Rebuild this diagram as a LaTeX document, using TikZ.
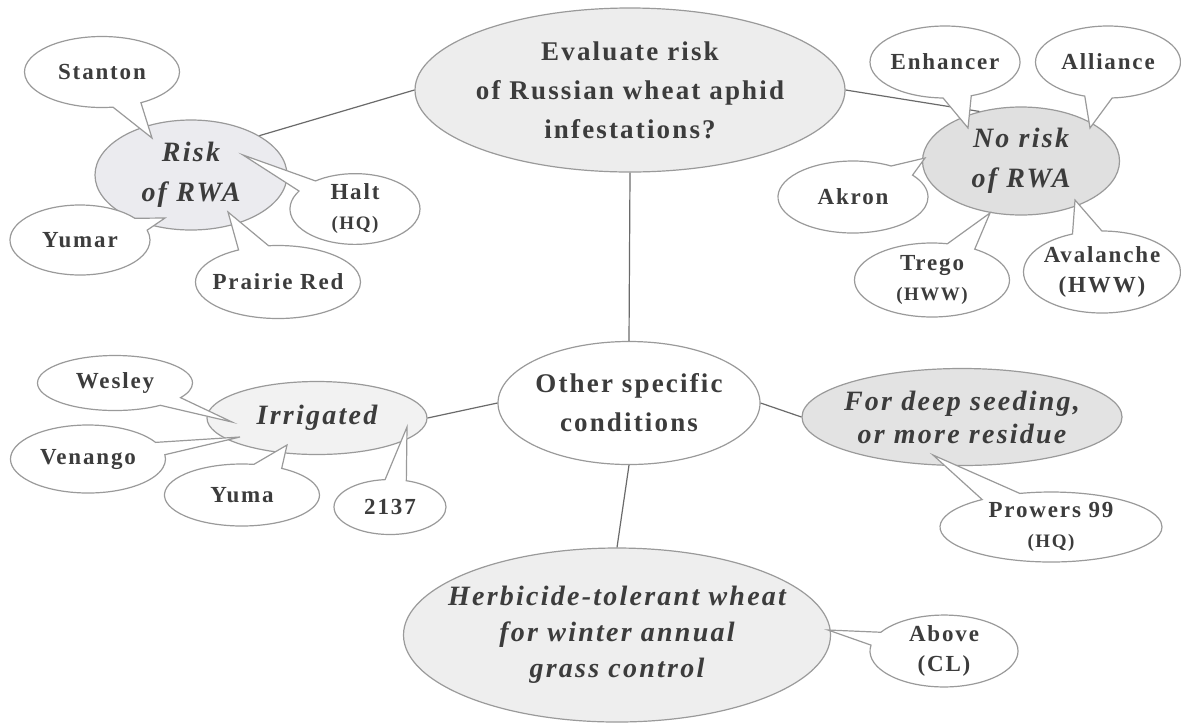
\documentclass[tikz,border=0pt]{standalone}
\usepackage{fontspec}
\setmainfont{Liberation Serif}[LetterSpace=8]
\usetikzlibrary{shapes.geometric,shapes.callouts}
\definecolor{inkgray}{HTML}{3C3C3C}
\definecolor{rimgray}{HTML}{9A9A9A}
\definecolor{linkgray}{HTML}{6A6A6A}
\definecolor{riskfill}{HTML}{EBEBEF}
\tikzset{
  topic/.style={ellipse, draw=rimgray, line width=0.6pt, inner sep=0pt, inner xsep=-20pt, text=inkgray, align=center},
  issue/.style={topic, font=\fontsize{13.5}{19.5}\selectfont\bfseries},
  branch/.style={topic, font=\fontsize{14}{20}\selectfont\bfseries\itshape},
  variety/.style={ellipse callout, draw=rimgray, fill=white, line width=0.6pt, inner sep=0pt, inner xsep=-12pt,
    text=inkgray, align=center, callout pointer arc=22, font=\fontsize{11.5}{15}\selectfont\bfseries},
  link/.style={draw=linkgray, line width=0.6pt}
}
\newcommand{\subnote}[1]{{\fontsize{9.5}{12}\selectfont #1}}
\begin{document}
\begin{tikzpicture}[x=0.5pt, y=-0.5pt]
  \fill[white] (0,0) rectangle (1181,724);
  \useasboundingbox (0,0) rectangle (1181,724);

  % main questions
  \node[issue, fill=gray!14, minimum width=215pt, minimum height=82pt] (evaluate) at (630,90)
    {Evaluate risk\\of Russian wheat aphid\\infestations?};
  \node[issue, fill=white, minimum width=131pt, minimum height=61.5pt] (other) at (629,403)
    {Other specific\\conditions};

  % branches
  \node[branch, fill=riskfill, minimum width=96pt, minimum height=55pt] (risk) at (191,175) {Risk\\of RWA};
  \node[branch, fill=gray!24, minimum width=98.5pt, minimum height=54pt] (norisk) at (1021,161) {No risk\\of RWA};
  \node[branch, fill=gray!10, minimum width=110pt, minimum height=36.5pt] (irrigated) at (317,418) {Irrigated};
  \node[branch, fill=gray!22, font=\fontsize{14}{16.5}\selectfont\bfseries\itshape,
    minimum width=160pt, minimum height=48.5pt] (deep) at (962,417) {For deep seeding,\\or more residue};
  \node[branch, fill=gray!13, font=\fontsize{14}{18}\selectfont\bfseries\itshape,
    minimum width=213.5pt, minimum height=87pt] (herbicide) at (617,635)
    {Herbicide-tolerant wheat\\for winter annual\\grass control};

  \draw[link] (evaluate.west) -- (risk.north east);
  \draw[link] (evaluate.east) -- (norisk.130);
  \draw[link] (evaluate.south) -- (other.north);
  \draw[link] (other.west) -- (irrigated.east);
  \draw[link] (other.east) -- (deep.west);
  \draw[link] (other.south) -- (herbicide.north);

  % varieties: risk of RWA
  \node[variety, minimum width=77.5pt, minimum height=35.5pt, callout absolute pointer={(152,138)}] (stanton) at (102,72) {Stanton};
  \node[variety, minimum width=70pt, minimum height=35pt, callout absolute pointer={(165,218)}] (yumar) at (80,240) {Yumar};
  \node[variety, minimum width=65pt, minimum height=34pt, callout absolute pointer={(243,155)}] (halt) at (355,209) {Halt\\\subnote{(HQ)}};
  \node[variety, minimum width=82.5pt, minimum height=36.5pt, callout absolute pointer={(228,212)}] (prairie) at (278,282) {Prairie Red};

  % varieties: no risk of RWA
  \node[variety, minimum width=75pt, minimum height=36pt, callout absolute pointer={(968,128)}] (enhancer) at (945,62) {Enhancer};
  \node[variety, minimum width=72.5pt, minimum height=36pt, callout absolute pointer={(1090,128)}] (alliance) at (1108,62) {Alliance};
  \node[variety, minimum width=75pt, minimum height=36pt, callout absolute pointer={(925,158)}] (akron) at (853,197) {Akron};
  \node[variety, minimum width=77.5pt, minimum height=37pt, callout absolute pointer={(990,213)}] (trego) at (932,280) {Trego\\\subnote{(HWW)}};
  \node[variety, minimum width=78.5pt, minimum height=41pt, callout absolute pointer={(1075,200)}] (avalanche) at (1102,272) {Avalanche\\(HWW)};

  % varieties: irrigated
  \node[variety, minimum width=77.5pt, minimum height=27.5pt, callout absolute pointer={(232,422)}] (wesley) at (115,383) {Wesley};
  \node[variety, minimum width=77.5pt, minimum height=34pt, callout absolute pointer={(240,437)}] (venango) at (88,459) {Venango};
  \node[variety, minimum width=77.5pt, minimum height=31pt, callout absolute pointer={(287,445)}] (yuma) at (242,495) {Yuma};
  \node[variety, minimum width=56pt, minimum height=27.5pt, callout absolute pointer={(407,427)}] (v2137) at (390,507) {2137};

  % varieties: deep seeding, herbicide-tolerant
  \node[variety, minimum width=111pt, minimum height=35pt, callout absolute pointer={(933,455)}] (prowers) at (1051,527) {Prowers 99\\\subnote{(HQ)}};
  \node[variety, minimum width=74pt, minimum height=34pt, callout absolute pointer={(828,630)}] (above) at (944,651) {Above\\(CL)};
\end{tikzpicture}
\end{document}
